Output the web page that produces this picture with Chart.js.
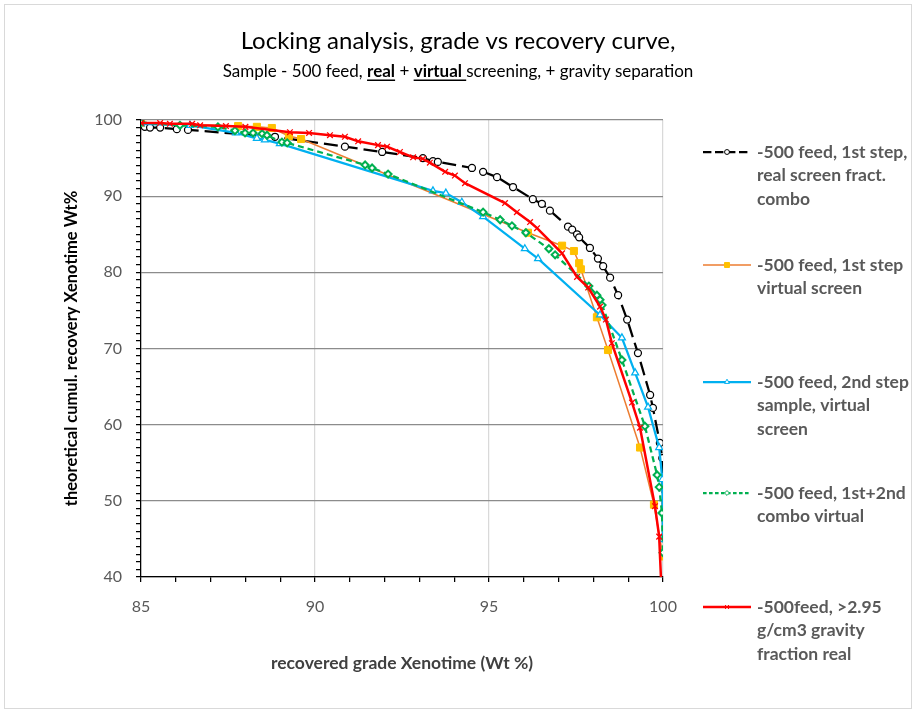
<!DOCTYPE html>
<html>
<head>
<meta charset="utf-8">
<script src="https://cdn.jsdelivr.net/npm/chart.js@4.4.1/dist/chart.umd.min.js"></script>
<style>
  html, body { margin: 0; padding: 0; background: #fff; }
  #wrap { width: 916px; height: 713px; }
</style>
</head>
<body>
<div id="wrap"><canvas id="chart" width="916" height="713"></canvas></div>
<script>
// -500 feed, 1st step, real screen fractions combo
const realGrade = [85.11, 85.26, 85.55, 86.03, 86.35, 88.85, 90.86, 91.93, 93.1, 93.39, 93.53, 94.51, 94.83, 95.23, 95.69, 96.26, 96.52, 96.75, 97.27, 97.39, 97.53, 97.59, 97.9, 98.13, 98.28, 98.48, 98.71, 98.97, 99.28, 99.63, 99.71, 99.91, 99.98, 100.0];
const realRecovery = [99.1, 99.0, 99.0, 98.8, 98.7, 97.8, 96.5, 95.8, 95.0, 94.6, 94.5, 93.7, 93.2, 92.5, 91.2, 89.6, 89.0, 88.1, 86.0, 85.6, 85.0, 84.6, 83.2, 81.8, 80.8, 79.3, 77.0, 73.8, 69.4, 63.9, 62.2, 57.6, 55.6, 45.1];

// -500 feed, 1st step virtual screen
const virt1Grade = [85.0, 87.79, 88.33, 88.76, 89.25, 89.6, 96.12, 97.1, 97.44, 97.59, 97.64, 98.1, 98.42, 99.34, 99.74, 100.0];
const virt1Recovery = [99.6, 99.2, 99.1, 98.95, 97.9, 97.5, 85.2, 83.5, 82.8, 81.2, 80.4, 74.1, 69.8, 57.0, 49.5, 42.7];

// -500 feed, 2nd step sample, virtual screen
const virt2Grade = [85.0, 86.41, 87.73, 88.33, 88.56, 88.99, 93.39, 93.76, 94.22, 94.83, 96.03, 96.41, 98.19, 98.82, 99.2, 99.57, 99.89, 99.98, 100.0];
const virt2Recovery = [99.5, 99.3, 98.3, 97.6, 97.4, 96.9, 90.7, 90.4, 89.2, 87.3, 83.1, 81.8, 74.4, 71.4, 66.8, 62.3, 57.0, 52.8, 44.9];

// -500 feed, 1st+2nd combo virtual
const comboGrade = [85.0, 86.12, 87.21, 87.7, 87.99, 88.22, 88.48, 88.62, 89.05, 89.2, 91.44, 91.64, 92.1, 94.83, 95.32, 95.66, 96.06, 96.72, 96.9, 97.87, 98.1, 98.19, 98.25, 98.82, 99.48, 99.83, 99.89, 99.97, 100.0];
const comboRecovery = [99.7, 99.3, 99.1, 98.6, 98.3, 98.3, 98.2, 98.0, 97.1, 97.0, 94.1, 93.7, 92.9, 87.9, 86.9, 86.1, 85.2, 83.1, 82.3, 78.2, 77.0, 76.4, 75.7, 68.5, 59.8, 53.4, 51.8, 48.4, 43.2];

// -500 feed, >2.95 g/cm3 gravity fraction real
const gravityGrade = [85.0, 85.55, 85.83, 86.47, 86.7, 87.44, 88.0, 89.28, 89.83, 90.43, 90.86, 91.24, 91.81, 92.07, 92.44, 92.82, 93.1, 93.3, 93.74, 94.02, 94.31, 95.46, 95.8, 96.18, 96.38, 97.1, 97.53, 97.85, 98.19, 98.36, 98.53, 99.11, 99.34, 99.77, 99.89, 99.95];
const gravityRecovery = [99.6, 99.6, 99.5, 99.5, 99.3, 99.2, 99.1, 98.4, 98.3, 98.0, 97.8, 97.2, 96.7, 96.5, 95.8, 95.1, 94.9, 94.4, 93.2, 92.7, 91.7, 89.1, 87.9, 86.6, 85.8, 82.5, 79.4, 78.0, 75.5, 73.8, 70.7, 62.9, 59.6, 49.3, 45.3, 39.0];

const seriesLabels = [
  ['-500 feed, 1st step,', 'real screen fract.', 'combo'],
  ['-500 feed, 1st step', 'virtual screen'],
  ['-500 feed, 2nd step', 'sample, virtual', 'screen'],
  ['-500 feed, 1st+2nd', 'combo virtual'],
  ['-500feed, >2.95', 'g/cm3 gravity', 'fraction real']
];

const xTicks = [85, 90, 95, 100];
const yTicks = [40, 50, 60, 70, 80, 90, 100];

const FONT = 'Lato, Carlito, Calibri, sans-serif';
const TEXT = '#595959';

function pts(xs, ys) {
  return xs.map((x, i) => ({ x, y: ys[i] }));
}

const datasets = [
  {
    label: seriesLabels[0].join(' '),
    data: pts(realGrade, realRecovery),
    borderColor: '#000000',
    borderWidth: 2.25,
    borderDash: [14, 6],
    pointStyle: 'circle',
    pointRadius: 3.5,
    pointBorderWidth: 1.25,
    pointBorderColor: '#000000',
    pointBackgroundColor: '#ffffff',
    order: 5
  },
  {
    label: seriesLabels[1].join(' '),
    data: pts(virt1Grade, virt1Recovery),
    borderColor: '#ED7D31',
    borderWidth: 1.5,
    pointStyle: 'rect',
    pointRadius: 5,
    pointBorderWidth: 1,
    pointBorderColor: '#FFC000',
    pointBackgroundColor: '#FFC000',
    order: 4
  },
  {
    label: seriesLabels[2].join(' '),
    data: pts(virt2Grade, virt2Recovery),
    borderColor: '#00B0F0',
    borderWidth: 2.25,
    pointStyle: 'triangle',
    pointRadius: 4,
    pointBorderWidth: 1.25,
    pointBorderColor: '#00B0F0',
    pointBackgroundColor: '#ffffff',
    order: 3
  },
  {
    label: seriesLabels[3].join(' '),
    data: pts(comboGrade, comboRecovery),
    borderColor: '#00B050',
    borderWidth: 2.25,
    borderDash: [6, 4],
    pointStyle: 'rectRot',
    pointRadius: 3.5,
    pointBorderWidth: 2,
    pointBorderColor: '#00B050',
    pointBackgroundColor: '#ffffff',
    order: 2
  },
  {
    label: seriesLabels[4].join(' '),
    data: pts(gravityGrade, gravityRecovery),
    borderColor: '#FF0000',
    borderWidth: 2.5,
    pointStyle: 'crossRot',
    pointRadius: 4,
    pointBorderWidth: 1.25,
    pointBorderColor: '#FF0000',
    pointBackgroundColor: '#FF0000',
    order: 1
  }
];

// frame, titles and the right-hand legend (Excel style)
const decorPlugin = {
  id: 'decor',
  beforeDraw(chart) {
    const ctx = chart.ctx;
    ctx.save();
    ctx.fillStyle = '#ffffff';
    ctx.fillRect(0, 0, chart.width, chart.height);
    ctx.strokeStyle = '#D9D9D9';
    ctx.lineWidth = 1;
    ctx.strokeRect(4.5, 4.5, 907, 704);
    ctx.restore();
  },
  afterDraw(chart) {
    const ctx = chart.ctx;
    ctx.save();
    const cx = 458;

    ctx.fillStyle = '#000000';
    ctx.textAlign = 'center';
    ctx.textBaseline = 'middle';
    ctx.font = '24px ' + FONT;
    ctx.fillText('Locking analysis, grade vs recovery curve,', cx, 41);

    // subtitle with bold + underlined words
    const parts = [
      { t: 'Sample - 500 feed, ', b: false },
      { t: 'real', b: true },
      { t: ' + ', b: false },
      { t: 'virtual ', b: true },
      { t: 'screening, + gravity separation', b: false }
    ];
    const fontFor = (p) => (p.b ? 'bold ' : '') + '17px ' + FONT;
    let total = 0;
    parts.forEach((p) => {
      ctx.font = fontFor(p);
      p.w = ctx.measureText(p.t).width;
      total += p.w;
    });
    let x = cx - total / 2;
    const y = 71;
    ctx.textAlign = 'left';
    ctx.textBaseline = 'alphabetic';
    parts.forEach((p) => {
      ctx.font = fontFor(p);
      ctx.fillText(p.t, x, y + 6);
      if (p.b) {
        ctx.fillRect(x, y + 8.5, p.w, 1.5);
      }
      x += p.w;
    });

    // legend
    const legendTop = [152, 265, 382, 493, 607];
    const lineH = 23.8;
    chart.data.datasets.forEach((ds, i) => {
      const ly = legendTop[i];
      ctx.save();
      ctx.strokeStyle = ds.borderColor;
      ctx.lineWidth = ds.borderWidth;
      ctx.setLineDash(ds.borderDash ? ds.borderDash.map((d) => d * 0.6) : []);
      ctx.beginPath();
      ctx.moveTo(703, ly);
      ctx.lineTo(751, ly);
      ctx.stroke();
      ctx.setLineDash([]);
      ctx.fillStyle = ds.pointBackgroundColor;
      ctx.strokeStyle = ds.pointBorderColor;
      ctx.lineWidth = 1;
      Chart.helpers.drawPoint(ctx, {
        pointStyle: ds.pointStyle,
        radius: ds.pointRadius * 0.7,
        rotation: 0,
        borderWidth: 1
      }, 727, ly);
      ctx.restore();

      ctx.fillStyle = TEXT;
      ctx.font = 'bold 17.5px ' + FONT;
      ctx.textAlign = 'left';
      ctx.textBaseline = 'middle';
      seriesLabels[i].forEach((line, k) => {
        ctx.fillText(line, 757, ly + k * lineH);
      });
    });
    ctx.restore();
  }
};

new Chart(document.getElementById('chart'), {
  type: 'scatter',
  data: { datasets },
  plugins: [decorPlugin],
  options: {
    responsive: false,
    animation: false,
    showLine: true,
    layout: { padding: { top: 120, right: 253, left: 0, bottom: 0 } },
    elements: { line: { tension: 0 } },
    plugins: {
      legend: { display: false },
      title: { display: false },
      tooltip: { enabled: false }
    },
    scales: {
      x: {
        type: 'linear',
        min: 85,
        max: 100,
        afterFit: (s) => { s.height = 136; },
        border: { color: '#000000', width: 1.25 },
        grid: {
          color: (c) => (xTicks.includes(Math.round(c.tick.value)) ? '#D9D9D9' : 'rgba(0,0,0,0)'),
          lineWidth: 1.25,
          tickColor: '#000000',
          tickLength: 5,
          drawTicks: true
        },
        ticks: {
          stepSize: 1,
          autoSkip: false,
          maxRotation: 0,
          padding: 15,
          color: TEXT,
          font: { family: FONT, size: 16 },
          callback: (v) => (xTicks.includes(Math.round(v)) ? String(Math.round(v)) : '')
        },
        title: {
          display: true,
          text: 'recovered grade Xenotime (Wt %)',
          color: '#404040',
          font: { family: FONT, size: 17.5, weight: 'bold' },
          padding: { top: 0, bottom: 39 }
        }
      },
      y: {
        type: 'linear',
        min: 40,
        max: 100,
        afterFit: (s) => { s.width = 141; },
        border: { color: '#000000', width: 1.25 },
        grid: {
          color: (c) => (yTicks.includes(Math.round(c.tick.value)) ? '#8C8C8C' : 'rgba(0,0,0,0)'),
          lineWidth: 1.25,
          tickColor: '#000000',
          tickLength: 5,
          drawTicks: true
        },
        ticks: {
          stepSize: 1,
          autoSkip: false,
          padding: 14,
          color: TEXT,
          font: { family: FONT, size: 16 },
          callback: (v) => (yTicks.includes(Math.round(v)) ? String(Math.round(v)) : '')
        },
        title: {
          display: true,
          text: 'theoretical cumul. recovery Xenotime Wt%',
          color: '#000000',
          font: { family: FONT, size: 16.5, weight: 'bold' },
          padding: { top: 62, bottom: 0 }
        }
      }
    }
  }
});
</script>
</body>
</html>
